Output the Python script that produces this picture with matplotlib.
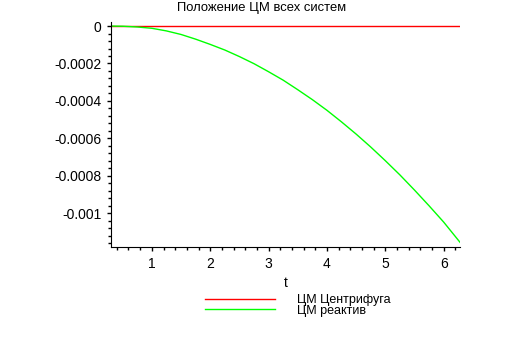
import matplotlib.pyplot as plt
from matplotlib.ticker import MultipleLocator

plt.rcParams['font.family'] = ['Liberation Sans', 'DejaVu Sans']

# values
t = [0.3, 0.5, 0.75, 1.0, 1.25, 1.5, 1.75, 2.0, 2.25, 2.5, 2.75, 3.0, 3.25,
     3.5, 3.75, 4.0, 4.25, 4.5, 4.75, 5.0, 5.25, 5.5, 5.75, 6.0, 6.28]
cm_centrifuge = [0.0] * len(t)
cm_reactive = [0.0, -0.000001, -0.000005, -0.000012, -0.000026, -0.000045,
               -0.000070, -0.000098, -0.000128, -0.000163, -0.000201,
               -0.000244, -0.000289, -0.000340, -0.000393, -0.000450,
               -0.000512, -0.000577, -0.000646, -0.000719, -0.000795,
               -0.000876, -0.000960, -0.001047, -0.001155]

y_ticks = [0, -0.0002, -0.0004, -0.0006, -0.0008, -0.001]
y_tick_labels = ['0', '-0.0002', '-0.0004', '-0.0006', '-0.0008', '-0.001']
x_ticks = [1, 2, 3, 4, 5, 6]

fig = plt.figure(figsize=(5.24, 3.39), dpi=100)
ax = fig.add_axes([0.2118, 0.2714, 0.8779 - 0.2118, 0.935 - 0.2714])

ax.plot(t, cm_centrifuge, color='#ff0000', lw=1.0, label='ЦМ Центрифуга')
ax.plot(t, cm_reactive, color='#00ff00', lw=1.0, label='ЦМ реактив')

ax.set_xlim(t[0], t[-1])
ax.set_ylim(-0.00118, 0.0000214)

ax.set_xticks(x_ticks)
ax.set_yticks(y_ticks)
ax.set_yticklabels(y_tick_labels)
ax.xaxis.set_minor_locator(MultipleLocator(0.2))
ax.yaxis.set_minor_locator(MultipleLocator(0.00004))
ax.tick_params(which='both', direction='out', length=3, width=1, labelsize=10, pad=4)
ax.tick_params(which='minor', length=2.5)

for side in ['top', 'right']:
    ax.spines[side].set_visible(False)

ax.set_xlabel('t', fontsize=10, labelpad=4)
fig.suptitle('Положение ЦМ всех систем', fontsize=9.4, x=0.5, y=0.995, va='top')

fig.legend(loc='upper left', bbox_to_anchor=(0.391, 0.133), frameon=False,
           fontsize=9, handlelength=5.6, handletextpad=1.8, labelspacing=-0.1,
           borderpad=0, borderaxespad=0)

fig.savefig('out.png', dpi=100)
